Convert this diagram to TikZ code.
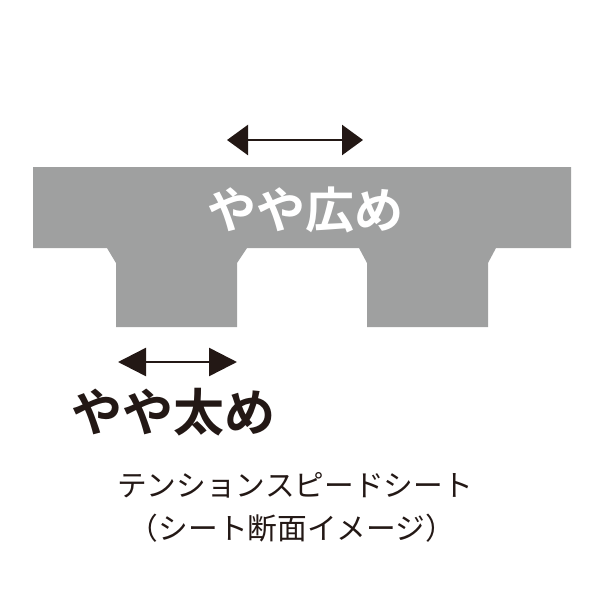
\documentclass[tikz,border=0pt]{standalone}
\usepackage{fontspec}
\newfontfamily\jpfont{Noto Sans CJK JP}
\newfontfamily\jpbold{Noto Sans CJK JP Bold}
\usetikzlibrary{arrows.meta}
\definecolor{ink}{HTML}{231815}
\definecolor{sheet}{HTML}{9FA0A0}
\tikzset{
  dimline/.style={ink, line width=2.5pt},
  lbl/.style={inner sep=0pt, outer sep=0pt},
}
\begin{document}
\begin{tikzpicture}[x=1pt,y=-1pt]
\useasboundingbox (0,0) rectangle (600,600);
% sheet cross-section
\fill[sheet] (33,167) -- (571,167) -- (571,248) -- (496,248) -- (488,263) -- (488,327)
  -- (367,327) -- (367,263) -- (359,248) -- (247,248) -- (237,263) -- (237,327)
  -- (116,327) -- (116,263) -- (107,248) -- (33,248) -- cycle;
% upper dimension arrow
\coordinate (ua) at (227,140);
\coordinate (ub) at (363,140);
\draw[dimline, {Triangle[length=21pt,width=30pt]}-{Triangle[length=21pt,width=30pt]}] (ua) -- (ub);
% lower dimension arrow
\coordinate (la) at (118,362);
\coordinate (lb) at (237,362);
\draw[dimline, {Triangle[length=28pt,width=28pt]}-{Triangle[length=28pt,width=28pt]}] (la) -- (lb);
% labels
\node[lbl, text=white, font=\jpbold\fontsize{49}{55}\selectfont] (wide) at (305,210) {やや広め};
\node[lbl, text=ink, font=\jpbold\fontsize{51}{56}\selectfont] (thick) at (173,412) {やや太め};
\node[lbl, text=ink, font=\jpfont\fontsize{29.7}{42}\selectfont] (cap1) at (295,485) {テンションスピードシート};
\node[lbl, text=ink, font=\jpfont\fontsize{29.7}{42}\selectfont] (cap2) at (292,528) {（シート断面イメージ）};
\end{tikzpicture}
\end{document}
